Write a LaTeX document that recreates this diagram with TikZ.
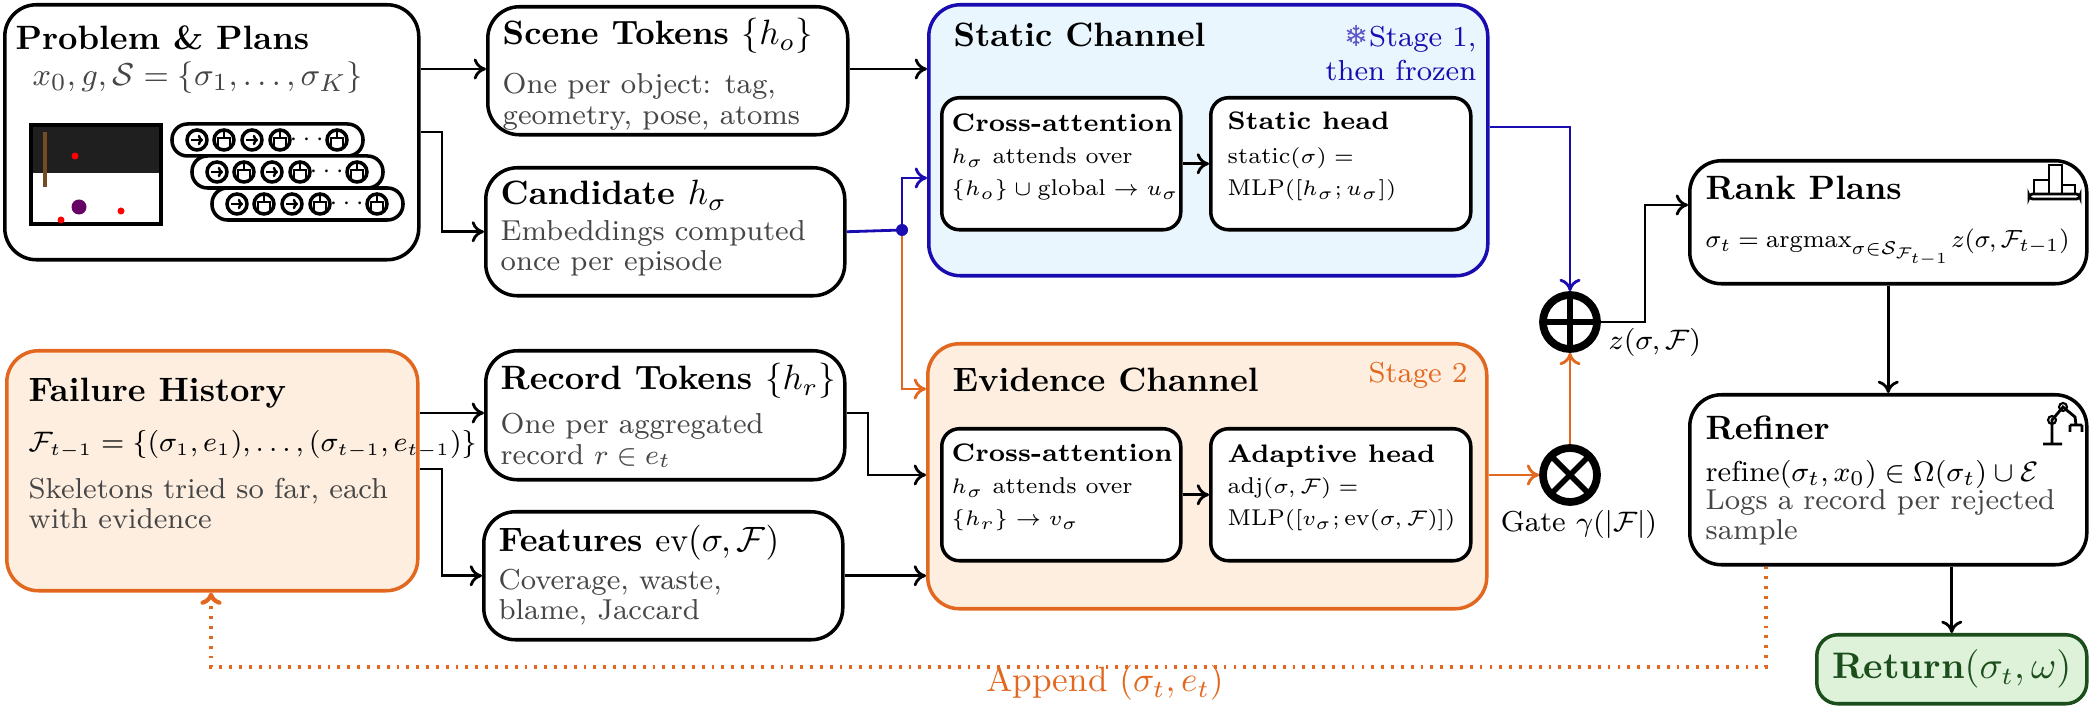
\documentclass[tikz,border=0pt]{standalone}
\usepackage{amsmath}
\usepackage{amssymb}
\usepackage{graphicx}
\usepackage{fontspec}
\usepackage{tikz}
\usetikzlibrary{positioning,calc,arrows.meta}
\newfontfamily\symfont{DejaVu Sans}
\definecolor{chblue}{RGB}{26,12,176}
\definecolor{chorange}{RGB}{226,104,32}
\definecolor{orfill}{RGB}{253,238,224}
\definecolor{grfill}{RGB}{221,242,217}
\definecolor{grdark}{RGB}{28,78,28}
\definecolor{txtgray}{RGB}{70,70,70}
\definecolor{bluefill}{RGB}{233,246,253}

\tikzset{
  box/.style={draw, line width=1pt, rounded corners=9pt, fill=white},
  inbox/.style={draw, line width=1pt, rounded corners=5pt, fill=white},
  ttl/.style={font=\bfseries\fontsize{9.6}{11}\selectfont, inner sep=0pt},
  subttl/.style={font=\bfseries\fontsize{7.2}{8.5}\selectfont, inner sep=0pt},
  body/.style={font=\fontsize{8.2}{8.6}\selectfont, text=txtgray, align=left, inner sep=0pt},
  inbody/.style={font=\fontsize{6.5}{9.2}\selectfont, align=left, inner sep=0pt},
  arr/.style={-{To[length=3.5pt,width=6pt]}, line width=0.8pt},
  op/.style={circle, draw, line width=2.2pt, minimum size=0.54cm, inner sep=0pt},
}
\newcommand{\panel}[6]{% name, style, x, y, w, h
  \node[#2, minimum width=#5*0.01cm, minimum height=#6*0.01cm, anchor=north west] (#1) at (#3,#4) {};}

\begin{document}
\begin{tikzpicture}[x=0.01cm, y=-0.01cm]
  \useasboundingbox (0,0) rectangle (2100,719);

  % left column
  \panel{prob}{box}{3}{3}{414}{255}
  \node[ttl, anchor=base west] (prob-ttl) at ([shift={(12,47)}]prob.north west) {Problem \& Plans};
  \node[inner sep=0pt, text=txtgray, font=\fontsize{9.4}{11}\selectfont, anchor=base west] (prob-math) at ([shift={(29,83)}]prob.north west) {$x_0, g, \mathcal{S}=\{\sigma_1,\ldots,\sigma_K\}$};
  % scene snapshot
  \fill[white] (31,125) rectangle (161,224);
  \fill[black!88] (31,125) rectangle (161,173);
  \draw[line width=1.2pt] (31,125) rectangle (161,224);
  \draw[brown!60!black, line width=1.3pt] (45,132) -- (45,187);
  \fill[red] (75,156) circle (3.5);
  \fill[red] (121,211) circle (3.5);
  \fill[red] (61,220) circle (3.5);
  \fill[violet!80!black] (79,207) circle (7.5);
  % plan skeletons
  \foreach \dx/\dy in {0/0,20/32,40/64} {
    \draw[fill=white, line width=1pt, rounded corners=4.4pt] (172+\dx,124+\dy) rectangle (363+\dx,156+\dy);
    \foreach \cx/\k in {197/0,224/1,252/0,280/1,337/1} {
      \draw[line width=1pt] (\cx+\dx,140+\dy) circle (10);
      \ifnum\k=0
        \draw[-{To[length=1.5pt,width=3pt]}, line width=0.7pt] (\cx+\dx-6,140+\dy) -- (\cx+\dx+6,140+\dy);
      \else
        \draw[line width=0.6pt] (\cx+\dx-6,146+\dy) -- (\cx+\dx-6,138+\dy) -- (\cx+\dx+6,138+\dy) -- (\cx+\dx+6,146+\dy)
          (\cx+\dx,130+\dy) -- (\cx+\dx,138+\dy);
      \fi
    }
    \node[inner sep=0pt, font=\scriptsize] (dots-\dx) at (309+\dx,140+\dy) {$\cdots$};
  }

  \panel{fail}{box, draw=chorange, fill=orfill}{5}{349}{411}{240}
  \node[ttl, anchor=base west] (fail-ttl) at ([shift={(23,53)}]fail.north west) {Failure History};
  \node[inner sep=0pt, font=\fontsize{7.6}{10}\selectfont, anchor=base west] (fail-math) at ([shift={(23,103)}]fail.north west) {$\mathcal{F}_{t-1}=\{(\sigma_1,e_1),\ldots,(\sigma_{t-1},e_{t-1})\}$};
  \node[body, anchor=north west] (fail-txt) at ([shift={(23,128)}]fail.north west) {Skeletons tried so far, each\\with evidence};

  % second column
  \panel{scene}{box}{486}{5}{360}{128}
  \node[ttl, anchor=base west] (scene-ttl) at ([shift={(16,40)}]scene.north west) {Scene Tokens $\{h_o\}$};
  \node[body, anchor=north west] (scene-txt) at ([shift={(16,68)}]scene.north west) {One per object: tag,\\geometry, pose, atoms};

  \panel{cand}{box}{484}{166}{359}{128}
  \node[ttl, anchor=base west] (cand-ttl) at ([shift={(16,39)}]cand.north west) {Candidate $h_\sigma$};
  \node[body, anchor=north west] (cand-txt) at ([shift={(16,54)}]cand.north west) {Embeddings computed\\once per episode};

  \panel{rec}{box}{484}{349}{359}{129}
  \node[ttl, anchor=base west] (rec-ttl) at ([shift={(16,41)}]rec.north west) {Record Tokens $\{h_r\}$};
  \node[body, anchor=north west] (rec-txt) at ([shift={(16,64)}]rec.north west) {One per aggregated\\record $r\in e_t$};

  \panel{feat}{box}{482}{510}{359}{128}
  \node[ttl, anchor=base west] (feat-ttl) at ([shift={(16,42)}]feat.north west) {Features $\mathrm{ev}(\sigma,\mathcal{F})$};
  \node[body, anchor=north west] (feat-txt) at ([shift={(16,58)}]feat.north west) {Coverage, waste,\\blame, Jaccard};

  % channels
  \panel{stat}{box, draw=chblue, fill=bluefill}{927}{3}{559}{271}
  \node[ttl, anchor=base west] (stat-ttl) at ([shift={(26,44)}]stat.north west) {Static Channel};
  \node[inner sep=0pt, font=\fontsize{8.2}{9.6}\selectfont, text=chblue, align=right, anchor=north east] (stat-stage) at (1477,25) {{\symfont\color{chblue!70!white}❄}Stage 1,\\then frozen};
  \panel{scross}{inbox}{940}{96}{239}{132}
  \node[subttl, anchor=base west] (scross-ttl) at ([shift={(11,36)}]scross.north west) {Cross-attention};
  \node[inbody, anchor=north west] (scross-txt) at ([shift={(11,51)}]scross.north west) {$h_\sigma$ attends over\\$\{h_o\}\cup\mathrm{global}\to u_\sigma$};
  \panel{shead}{inbox}{1209}{96}{260}{132}
  \node[subttl, anchor=base west] (shead-ttl) at ([shift={(18,34)}]shead.north west) {Static head};
  \node[inbody, anchor=north west] (shead-txt) at ([shift={(18,51)}]shead.north west) {$\mathrm{static}(\sigma)=$\\$\mathrm{MLP}([h_\sigma;u_\sigma])$};

  \panel{evid}{box, draw=chorange, fill=orfill}{926}{342}{559}{265}
  \node[ttl, anchor=base west] (evid-ttl) at ([shift={(26,50)}]evid.north west) {Evidence Channel};
  \node[inner sep=0pt, font=\fontsize{8.2}{9.6}\selectfont, text=chorange, anchor=base east] (evid-stage) at (1468,383) {Stage 2};
  \panel{ecross}{inbox}{940}{427}{239}{132}
  \node[subttl, anchor=base west] (ecross-ttl) at ([shift={(11,35)}]ecross.north west) {Cross-attention};
  \node[inbody, anchor=north west] (ecross-txt) at ([shift={(11,50)}]ecross.north west) {$h_\sigma$ attends over\\$\{h_r\}\to v_\sigma$};
  \panel{ehead}{inbox}{1209}{427}{260}{132}
  \node[subttl, anchor=base west] (ehead-ttl) at ([shift={(18,36)}]ehead.north west) {Adaptive head};
  \node[inbody, anchor=north west] (ehead-txt) at ([shift={(18,50)}]ehead.north west) {$\mathrm{adj}(\sigma,\mathcal{F})=$\\$\mathrm{MLP}([v_\sigma;\mathrm{ev}(\sigma,\mathcal{F})])$};

  % combine
  \node[op, path picture={\draw[line width=1.6pt] ([xshift=-7pt]path picture bounding box.center) -- ([xshift=7pt]path picture bounding box.center) ([yshift=-7pt]path picture bounding box.center) -- ([yshift=7pt]path picture bounding box.center);}] (plus) at (1570,322) {};
  \node[op, path picture={\draw[line width=1.6pt] ([shift={(-5pt,-5pt)}]path picture bounding box.center) -- ([shift={(5pt,5pt)}]path picture bounding box.center) ([shift={(-5pt,5pt)}]path picture bounding box.center) -- ([shift={(5pt,-5pt)}]path picture bounding box.center);}] (times) at (1570,475) {};
  \node[inner sep=0pt, font=\fontsize{8.2}{10}\selectfont, anchor=base west] (zlab) at (1608,350) {$z(\sigma,\mathcal{F})$};
  \node[inner sep=0pt, font=\fontsize{8.2}{10}\selectfont, anchor=base] (gate) at (1579,532) {Gate $\gamma(|\mathcal{F}|)$};

  % right column
  \panel{rank}{box}{1688}{159}{397}{123}
  \node[ttl, anchor=base west] (rank-ttl) at ([shift={(17,41)}]rank.north west) {Rank Plans};
  \node[inner sep=0pt, font=\fontsize{8}{10}\selectfont, anchor=base west] (rank-math) at ([shift={(17,89)}]rank.north west) {\scalebox{0.88}{$\sigma_t=\mathrm{argmax}_{\sigma\in\mathcal{S}_{\mathcal{F}_{t-1}}} z(\sigma,\mathcal{F}_{t-1})$}};
  \draw[line width=0.8pt, rounded corners=1pt] (2029,194) rectangle (2080,199);
  \draw[line width=0.8pt] (2034,194) -- (2034,180) -- (2049,180) -- (2049,194) (2049,194) -- (2049,165) -- (2062,165) -- (2062,194) (2062,194) -- (2062,185) -- (2075,185) -- (2075,194);

  \panel{refn}{box}{1688}{393}{397}{170}
  \node[ttl, anchor=base west] (refn-ttl) at ([shift={(17,47)}]refn.north west) {Refiner};
  \node[inner sep=0pt, font=\fontsize{8.2}{10}\selectfont, anchor=base west] (refn-math) at ([shift={(17,89)}]refn.north west) {$\mathrm{refine}(\sigma_t,x_0)\in\Omega(\sigma_t)\cup\mathcal{E}$};
  \node[body, anchor=north west] (refn-txt) at ([shift={(17,96)}]refn.north west) {Logs a record per rejected\\sample};
  \draw[line width=0.8pt] (2043,444) -- (2062,444) (2052,444) -- (2052,420) -- (2063,407) -- (2075,417) -- (2076,425)
    (2070,425) -- (2070,432) (2082,425) -- (2082,432) (2070,425) -- (2082,425);
  \draw[line width=0.6pt] (2052,420) circle (4) (2063,407) circle (4);

  \panel{ret}{box, draw=grdark, fill=grfill, rounded corners=6pt}{1815}{633}{270}{69}
  \node[inner sep=0pt, text=grdark, font=\fontsize{10.5}{12}\selectfont] (ret-txt) at (ret.center) {\textbf{Return}$(\sigma_t,\omega)$};

  % connectors
  \draw[arr] (prob.east |- 0,69) -- (scene.west |- 0,69);
  \draw[arr] (prob.east |- 0,132) -- (442,132) |- (cand.west);
  \draw[arr] (scene.east |- 0,69) -- (stat.west |- 0,69);
  \draw[line width=0.8pt, chblue] (cand.east) -- (902,230) coordinate (split);
  \draw[arr, chblue] (split) |- (stat.west |- 0,178);
  \draw[arr, chorange] (split) |- (evid.west |- 0,389);
  \fill[chblue] (split) circle (6);
  \draw[arr] (fail.east |- 0,413) -- (rec.west |- 0,413);
  \draw[arr] (fail.east |- 0,469) -- (442,469) |- (feat.west);
  \draw[arr] (rec.east |- 0,413) -- (868,413) |- (evid.west |- 0,475);
  \draw[arr] (feat.east) -- (evid.west |- feat.east);
  \draw[arr] (scross) -- (shead);
  \draw[arr] (ecross) -- (ehead);
  \draw[arr, chblue] (stat.east |- 0,127) -| (plus.north);
  \draw[arr, chorange] (evid.east |- times.west) -- (times.west);
  \draw[arr, chorange] (times.north) -- (plus.south);
  \draw[arr] (plus.east) -- (1645,322) |- (rank.west |- 0,205);
  \draw[arr] (rank.south) -- (refn.north);
  \draw[arr] (refn.south -| ret.north) -- (ret.north);
  \draw[arr, chorange, dotted, line width=1.2pt] (refn.south -| 1766,0) -- (1766,667) -| (fail.south -| 211,0);
  \node[inner sep=0pt, text=chorange, font=\fontsize{10}{12}\selectfont, anchor=base] (append) at (1105,692) {Append $(\sigma_t,e_t)$};
\end{tikzpicture}
\end{document}
